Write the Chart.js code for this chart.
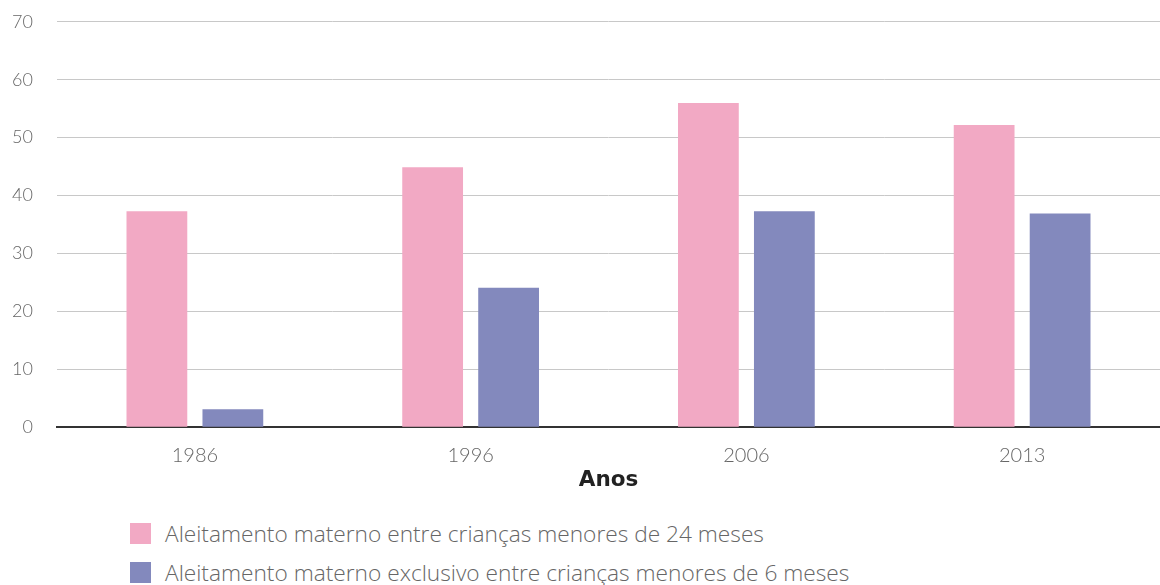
<!DOCTYPE html>
<html>
<head>
<meta charset="utf-8">
<script src="https://cdn.jsdelivr.net/npm/chart.js@4"></script>
<style>
  html, body { margin: 0; padding: 0; background: #fff; overflow: hidden; }
  #wrap { width: 1160px; height: 518px; margin-top: -13px; position: relative; }
  #legend { position: absolute; left: 130px; top: 523px; font-family: "Open Sans", sans-serif; font-weight: 300; font-size: 22.7px; color: #666; }
  #legend div { height: 39px; line-height: 21px; display: flex; align-items: flex-start; }
  #legend span.box { display: inline-block; width: 21px; height: 21px; margin-right: 14px; }
</style>
</head>
<body>
<div id="wrap"><canvas id="chart"></canvas></div>
<div id="legend"></div>
<script>
// Anos
const years = ["1986", "1996", "2006", "2013"];

// Aleitamento materno (%)
const menores24 = [37.3, 44.9, 56.0, 52.2];
const exclusivo6 = [3.1, 24.1, 37.3, 36.9];

const seriesNames = [
    "Aleitamento materno entre crianças menores de 24 meses",
    "Aleitamento materno exclusivo entre crianças menores de 6 meses"
];
const seriesColors = ["#f2a9c4", "#8389bd"];

const ctx = document.getElementById('chart').getContext('2d');
const chart = new Chart(ctx, {
    type: 'bar',
    data: {
        labels: years,
        datasets: [
            { label: seriesNames[0], data: menores24, backgroundColor: seriesColors[0] },
            { label: seriesNames[1], data: exclusivo6, backgroundColor: seriesColors[1] }
        ]
    },
    options: {
        responsive: true,
        maintainAspectRatio: false,
        animation: false,
        layout: { padding: { top: 0, right: 0, left: 0, bottom: 8 } },
        datasets: { bar: { barPercentage: 0.8, categoryPercentage: 0.551 } },
        plugins: {
            legend: { display: false },
            tooltip: { enabled: false }
        },
        scales: {
            x: {
                grid: { display: false },
                border: { color: '#333', width: 2 },
                ticks: { color: '#666', font: { family: 'Lato', size: 20, weight: 300 }, padding: 8 },
                title: { display: true, text: 'Anos', color: '#222', font: { family: 'DejaVu Sans', size: 21.5, weight: 'bold' }, padding: { top: -8, bottom: 4 } }
            },
            y: {
                min: 0,
                max: 70,
                afterFit(scale) { scale.width = 57; },
                ticks: { stepSize: 10, color: '#666', font: { family: 'Lato', size: 18, weight: 300 }, padding: 24 },
                grid: { color: '#c8c8c8', lineWidth: 1, drawTicks: false },
                border: { display: false }
            }
        }
    }
});

// legenda em HTML, abaixo do gráfico
const legend = document.getElementById('legend');
chart.data.datasets.forEach(ds => {
    const row = document.createElement('div');
    row.innerHTML = '<span class="box" style="background:' + ds.backgroundColor + '"></span>' + ds.label;
    legend.appendChild(row);
});
</script>
</body>
</html>
